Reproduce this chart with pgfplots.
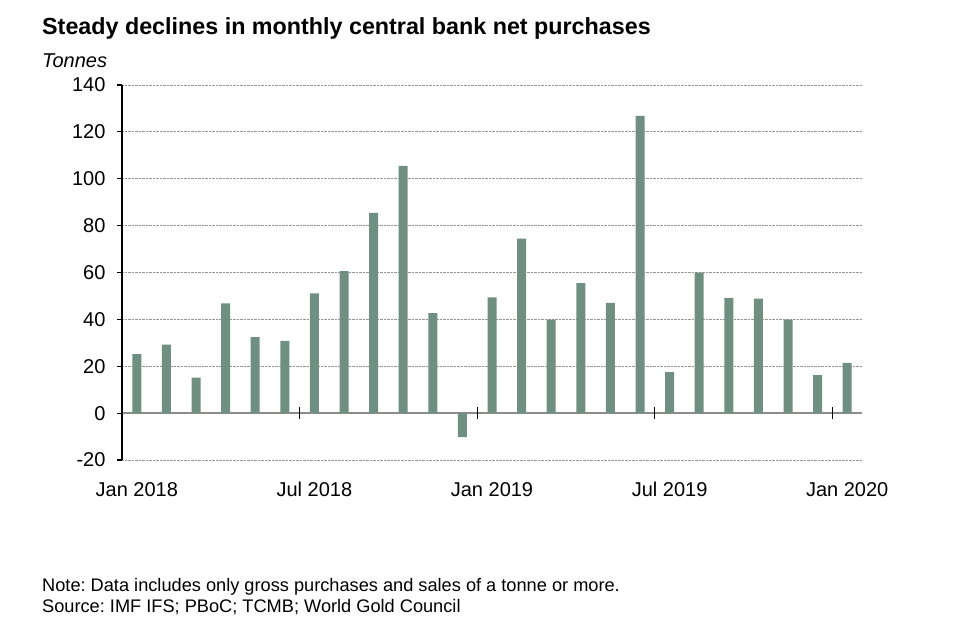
\documentclass[border=0pt]{standalone}
\usepackage{fontspec}
\setmainfont{Liberation Sans}
\usepackage{pgfplots}
\pgfplotsset{compat=1.18}
\definecolor{barcol}{RGB}{111,143,130}
\definecolor{gridcol}{RGB}{150,150,150}
\definecolor{zerocol}{RGB}{140,140,140}
\frenchspacing
\begin{document}
\begin{tikzpicture}[x=1pt,y=1pt]
\path[use as bounding box] (0,0) rectangle (959,-635);
\node[anchor=base west, inner sep=0pt, font=\fontsize{23.3}{27}\selectfont\bfseries] at (42,-34) {Steady declines in monthly central bank net purchases};
\node[anchor=base west, inner sep=0pt, font=\fontsize{20}{24}\selectfont\itshape] at (42,-67) {Tonnes};
\node[anchor=base west, inner sep=0pt, font=\fontsize{18.2}{22}\selectfont] at (42,-591) {Note: Data includes only gross purchases and sales of a tonne or more.};
\node[anchor=base west, inner sep=0pt, font=\fontsize{18.2}{22}\selectfont] at (42,-612) {Source: IMF IFS; PBoC; TCMB; World Gold Council};
\begin{axis}[
  at={(122pt,-460pt)}, anchor=south west,
  scale only axis, width=740pt, height=375pt,
  xmin=-0.5, xmax=24.5, ymin=-20, ymax=140,
  clip=false,
  axis line style={draw=none},
  ytick={-20,0,20,40,60,80,100,120,140},
  yticklabels={-20,0,20,40,60,80,100,120,140},
  xtick={0,6,12,18,24},
  xticklabels={Jan 2018,Jul 2018,Jan 2019,Jul 2019,Jan 2020},
  ytick pos=left, tick align=outside,
  major tick length=5pt,
  y tick style={black, line width=1.2pt},
  x tick style={draw=none},
  ymajorgrids, major grid style={gridcol, densely dotted, line width=0.8pt},
  tick label style={font=\fontsize{20}{24}\selectfont},
  yticklabel style={xshift=-8pt},
  xticklabel style={anchor=base, yshift=-31pt},
  ybar, bar width=9pt,
]
\draw[zerocol, line width=1.3pt] (axis cs:-0.5,0) -- (axis cs:24.5,0);
\addplot[fill=barcol, draw=none] coordinates {
(0,25.2) (1,29.2) (2,15.1) (3,46.8) (4,32.4) (5,30.8)
(6,51.1) (7,60.6) (8,85.4) (9,105.5) (10,42.7) (11,-10.2)
(12,49.4) (13,74.5) (14,39.9) (15,55.5) (16,47.0) (17,126.8)
(18,17.5) (19,59.9) (20,49.2) (21,48.9) (22,39.9) (23,16.2)
(24,21.4)};
\draw[black, line width=1.3pt] (axis cs:-0.5,-20) -- (axis cs:-0.5,140);
\pgfplotsinvokeforeach{5.5,11.5,17.5,23.5}{
  \draw[black, line width=0.8pt] (axis cs:#1,-2.55) -- (axis cs:#1,2.55);
}
\end{axis}
\end{tikzpicture}
\end{document}
